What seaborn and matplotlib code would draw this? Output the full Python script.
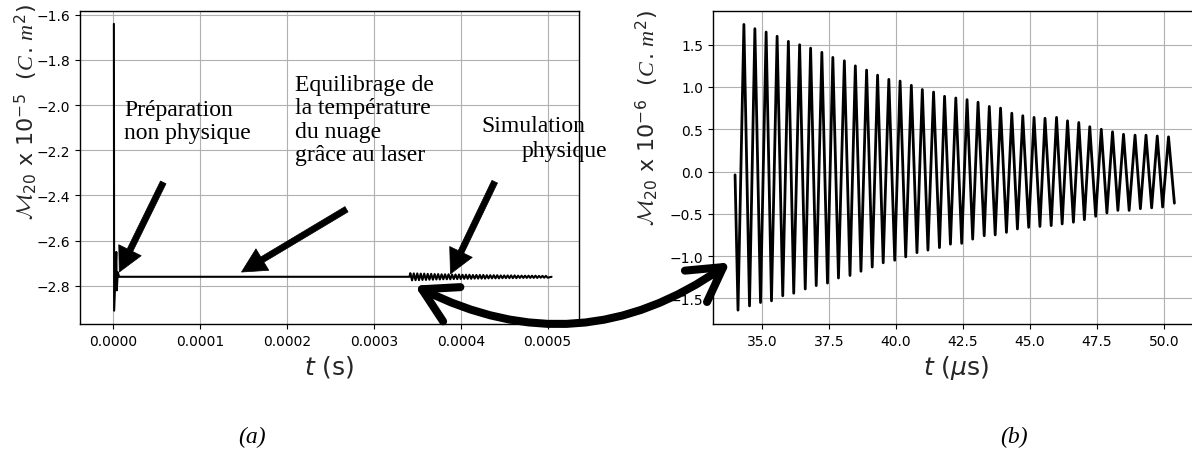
import matplotlib
matplotlib.use("Agg")
import matplotlib.pyplot as plt
from matplotlib.patches import ConnectionPatch
import seaborn as sns

# ---- (a) whole run : M20 in 1e-5 C.m^2, t in microseconds ----
prep_t = [1.0, 1.3, 3.8, 4.3, 5.5, 7.0, 341.0]
prep_m = [-1.64, -2.91, -2.65, -2.82, -2.74, -2.760, -2.760]

band_t_hi = [342, 346, 350, 354, 358, 362, 366, 370, 374, 378,
             382, 386, 390, 394, 398, 402, 406, 410, 414, 418,
             422, 426, 430, 434, 438, 442, 446, 450, 454, 458,
             462, 466, 470, 474, 478, 482, 486, 490, 494, 498]
band_hi = [-2.744, -2.745, -2.745, -2.746, -2.746, -2.747, -2.747, -2.748, -2.748, -2.749,
           -2.749, -2.749, -2.750, -2.750, -2.750, -2.751, -2.751, -2.751, -2.752, -2.752,
           -2.752, -2.752, -2.753, -2.753, -2.753, -2.753, -2.754, -2.754, -2.754, -2.754,
           -2.754, -2.755, -2.755, -2.755, -2.755, -2.755, -2.755, -2.756, -2.756, -2.756]
band_t_lo = [344, 348, 352, 356, 360, 364, 368, 372, 376, 380,
             384, 388, 392, 396, 400, 404, 408, 412, 416, 420,
             424, 428, 432, 436, 440, 444, 448, 452, 456, 460,
             464, 468, 472, 476, 480, 484, 488, 492, 496, 500]
band_lo = [-2.776, -2.775, -2.775, -2.774, -2.774, -2.773, -2.773, -2.772, -2.772, -2.771,
           -2.771, -2.771, -2.770, -2.770, -2.770, -2.769, -2.769, -2.769, -2.768, -2.768,
           -2.768, -2.768, -2.767, -2.767, -2.767, -2.767, -2.766, -2.766, -2.766, -2.766,
           -2.766, -2.765, -2.765, -2.765, -2.765, -2.765, -2.765, -2.764, -2.764, -2.764]
band_end_t = 504.5
band_end_m = -2.760

# ---- (b) physical simulation : M20 in 1e-6 C.m^2, t in microseconds ----
zoom_start_t, zoom_start_m = 33.99, -0.04
trough_t = [34.10, 34.53, 34.94, 35.35, 35.77, 36.18, 36.61, 37.02, 37.44, 37.85,
            38.28, 38.69, 39.11, 39.52, 39.95, 40.36, 40.78, 41.19, 41.62, 42.03,
            42.45, 42.86, 43.29, 43.70, 44.12, 44.53, 44.95, 45.37, 45.79, 46.20,
            46.62, 47.03, 47.45, 47.87, 48.28, 48.70, 49.12, 49.54, 49.95]
trough_m = [-1.64, -1.59, -1.55, -1.53, -1.47, -1.44, -1.39, -1.35, -1.32, -1.26,
            -1.23, -1.18, -1.13, -1.08, -1.05, -1.01, -0.96, -0.93, -0.90, -0.86,
            -0.85, -0.80, -0.76, -0.75, -0.72, -0.68, -0.66, -0.65, -0.64, -0.62,
            -0.60, -0.57, -0.53, -0.49, -0.46, -0.46, -0.44, -0.43, -0.42]
peak_t = [34.32, 34.73, 35.15, 35.56, 35.98, 36.40, 36.81, 37.23, 37.64, 38.07,
          38.48, 38.90, 39.31, 39.73, 40.15, 40.57, 40.98, 41.40, 41.81, 42.23,
          42.65, 43.06, 43.48, 43.90, 44.32, 44.73, 45.15, 45.56, 45.99, 46.40,
          46.82, 47.23, 47.66, 48.08, 48.49, 48.92, 49.33, 49.75, 50.17]
peak_m = [1.74, 1.69, 1.65, 1.60, 1.54, 1.50, 1.46, 1.41, 1.35, 1.31,
          1.25, 1.20, 1.14, 1.09, 1.07, 1.02, 0.97, 0.94, 0.89, 0.87,
          0.85, 0.82, 0.77, 0.75, 0.69, 0.66, 0.64, 0.63, 0.64, 0.60,
          0.58, 0.53, 0.50, 0.47, 0.44, 0.43, 0.43, 0.42, 0.41]
zoom_end_t, zoom_end_m = 50.39, -0.375

# ticks
a_xticks = [0.0, 0.0001, 0.0002, 0.0003, 0.0004, 0.0005]
a_yticks = [-2.8, -2.6, -2.4, -2.2, -2.0, -1.8, -1.6]
b_xticks = [35.0, 37.5, 40.0, 42.5, 45.0, 47.5, 50.0]
b_yticks = [-1.5, -1.0, -0.5, 0.0, 0.5, 1.0, 1.5]

# build the two series
a_t = list(prep_t)
a_m = list(prep_m)
for th, mh, tl, ml in zip(band_t_hi, band_hi, band_t_lo, band_lo):
    a_t += [th, tl]
    a_m += [mh, ml]
a_t.append(band_end_t)
a_m.append(band_end_m)
a_t = [v * 1e-6 for v in a_t]   # -> seconds

b_t = [zoom_start_t]
b_m = [zoom_start_m]
for tt, tm, pt, pm in zip(trough_t, trough_m, peak_t, peak_m):
    b_t += [tt, pt]
    b_m += [tm, pm]
b_t.append(zoom_end_t)
b_m.append(zoom_end_m)

sns.set_style("ticks", {"axes.grid": True, "grid.color": "#b0b0b0",
                        "axes.edgecolor": "black", "xtick.color": "black",
                        "ytick.color": "black", "text.color": "black"})
plt.rcParams['font.family'] = ['DejaVu Sans']
plt.rcParams['mathtext.fontset'] = 'custom'
plt.rcParams['mathtext.rm'] = 'DejaVu Sans'
plt.rcParams['mathtext.it'] = 'Liberation Serif:italic'
plt.rcParams['mathtext.cal'] = 'cmsy10'
plt.rcParams['grid.linewidth'] = 0.8

fig = plt.figure(figsize=(11.92, 4.52), dpi=100)
ax1 = fig.add_axes([0.0671, 0.281, 0.4186, 0.692])
ax2 = fig.add_axes([0.598, 0.281, 0.4077, 0.693])

sns.lineplot(x=a_t, y=a_m, ax=ax1, color="black", linewidth=1.5,
             sort=False, estimator=None)
sns.lineplot(x=b_t, y=b_m, ax=ax2, color="black", linewidth=2.0,
             sort=False, estimator=None)

ax1.set_xlim(-3.8e-5, 5.36e-4)
ax1.set_ylim(-2.969, -1.584)
ax1.set_xticks(a_xticks)
ax1.set_yticks(a_yticks)
ax2.set_xlim(33.16, 51.3)
ax2.set_ylim(-1.804, 1.902)
ax2.set_xticks(b_xticks)
ax2.set_yticks(b_yticks)
for ax in (ax1, ax2):
    ax.tick_params(labelsize=10, length=3.5, width=0.8)
    for s in ax.spines.values():
        s.set_linewidth(1.0)

ax1.set_xlabel(r"$t$ (s)", fontsize=18, math_fontfamily="dejavusans")
ax2.set_xlabel(r"$t$ ($\mu$s)", fontsize=18, math_fontfamily="dejavusans")
ax1.set_ylabel(r"$\mathcal{M}_{20}$ x 10$^{-5}$  $(C\,.\,m^2)$", fontsize=16)
ax2.set_ylabel(r"$\mathcal{M}_{20}$ x 10$^{-6}$  $(C\,.\,m^2)$", fontsize=16)
ax1.yaxis.set_label_coords(-0.082, 0.68)
ax2.yaxis.set_label_coords(-0.109, 0.66)

# multi-line texts: anchored on the baseline of their last line
serif = {"family": "Liberation Serif", "size": 17}
ax1.text(1.31e-5, -2.147, "Préparation\nnon physique", fontdict=serif,
         va="baseline", linespacing=1.15)
ax1.text(2.092e-4, -2.244, "Equilibrage de\nla température\ndu nuage\ngrâce au laser",
         fontdict=serif, va="baseline", linespacing=1.15)
ax1.text(4.238e-4, -2.116, "Simulation", fontdict=serif, va="baseline")
ax1.text(4.698e-4, -2.227, "physique", fontdict=serif, va="baseline")

arrow = dict(facecolor="black", edgecolor="black", width=4.4, headwidth=18,
             headlength=17.5, shrink=0, lw=0.5)
ax1.annotate("", xy=(7.2e-6, -2.739), xytext=(5.78e-5, -2.342), arrowprops=arrow)
ax1.annotate("", xy=(1.478e-4, -2.739), xytext=(2.686e-4, -2.461), arrowprops=arrow)
ax1.annotate("", xy=(3.882e-4, -2.747), xytext=(4.391e-4, -2.339), arrowprops=arrow)

link = ConnectionPatch(xyA=(3.471e-4, -2.799), coordsA=ax1.transData,
                       xyB=(33.795, -1.076), coordsB=ax2.transData,
                       arrowstyle="<->,head_length=0.4,head_width=0.23",
                       connectionstyle="arc3,rad=0.3", mutation_scale=60,
                       lw=5.8, color="black", shrinkA=0, shrinkB=0)
fig.add_artist(link)

fig.text(252 / 1192, 1 - 437 / 452, "(a)", family="Liberation Serif",
         style="italic", size=17, ha="center", va="center")
fig.text(1014 / 1192, 1 - 437 / 452, "(b)", family="Liberation Serif",
         style="italic", size=17, ha="center", va="center")

fig.savefig("out.png", dpi=100)
